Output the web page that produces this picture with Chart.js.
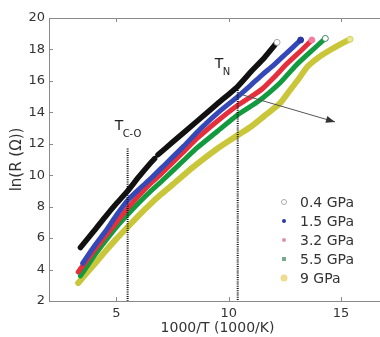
<!DOCTYPE html>
<html><head><meta charset="utf-8">
<script src="https://cdn.jsdelivr.net/npm/chart.js@4"></script>
<style>html,body{margin:0;padding:0;background:#fff;overflow:hidden;width:380px;height:337px}
#wrap{position:absolute;left:0;top:0;width:400px;height:337px}</style>
</head><body><div id="wrap"><canvas id="c" width="400" height="337"></canvas></div>
<script>
const seriesLabels = ['0.4 GPa','1.5 GPa','3.2 GPa','5.5 GPa','9 GPa'];
const p04 = [[3.4,5.4],[4.0,6.45],[4.5,7.35],[5.0,8.2],[5.5,9.0],[6.0,9.9],[6.5,10.75],[6.7,11.05],[6.75,null],[6.85,11.3],[7.5,12.1],[8.6,13.45],[9.5,14.55],[10.4,15.65],[11.0,16.6],[11.6,17.5],[12.15,18.45]];
const p15 = [[3.5,4.4],[4.0,5.45],[4.5,6.4],[5.0,7.45],[5.5,8.4],[6.0,9.1],[6.5,9.75],[7.0,10.45],[8.0,11.85],[8.6,12.75],[9.5,13.95],[10.4,15.0],[11.0,15.75],[11.5,16.4],[12.0,17.0],[12.6,17.8],[13.2,18.6]];
const p32 = [[3.3,3.85],[4.0,5.2],[4.5,6.1],[5.0,7.0],[5.5,7.9],[6.0,8.7],[6.5,9.45],[7.0,10.1],[8.0,11.5],[8.6,12.35],[9.5,13.45],[10.4,14.45],[11.0,15.0],[11.5,15.5],[12.0,16.2],[12.6,17.1],[13.2,17.9],[13.7,18.6]];
const p55 = [[3.4,3.6],[4.0,4.85],[4.5,5.8],[5.0,6.7],[5.5,7.5],[6.0,8.25],[6.5,8.95],[7.0,9.6],[8.0,10.95],[8.6,11.75],[9.5,12.8],[10.4,13.85],[11.0,14.4],[11.5,14.9],[12.3,15.9],[13.0,17.0],[13.6,17.8],[14.3,18.7]];
const p90 = [[3.3,3.15],[4.0,4.3],[4.5,5.15],[5.0,5.95],[5.5,6.7],[6.0,7.45],[6.5,8.15],[7.0,8.8],[7.5,9.4],[8.4,10.5],[9.5,11.7],[10.4,12.55],[11.0,13.1],[11.7,13.9],[12.3,14.6],[12.75,15.45],[13.1,16.1],[13.5,16.9],[14.0,17.5],[14.5,17.95],[15.0,18.35],[15.4,18.65]];
const xTicks = [5,10,15];
const yTicks = [2,4,6,8,10,12,14,16,18,20];
const tcoX = 5.5, tcoTop = 11.7;
const tnX = 10.4, tnTop = 15.7;
const arrowFrom = [10.64,15.1], arrowTo = [14.73,13.39];

const FONT = "'DejaVu Sans', Arial, sans-serif";
const lineColors = ['#111111','#3548b8','#e4303c','#139a3e','#c9c63a'];
const endFill = ['#ffffff','#2a3aa0','#f080a0','#ffffff','#e8e890'];
const endStroke = ['#aaaaaa','#2a3aa0','#f080a0','#3a8a5a','#d8d070'];
const widths = [5.5,5,5,5,6];
const allPts = [p04,p15,p32,p55,p90];

Chart.defaults.font.family = FONT;
Chart.defaults.font.size = 13;
Chart.defaults.color = '#333';

const datasets = allPts.map((pts,i)=>({
  label: seriesLabels[i],
  data: pts.map(p=>({x:p[0],y:p[1]})),
  borderColor: lineColors[i],
  borderWidth: widths[i],
  borderCapStyle:'round', borderJoinStyle:'round',
  tension: 0.2, spanGaps:false, fill:false,
  pointRadius: c => c.dataIndex === pts.length-1 ? 3 : 0,
  pointBackgroundColor: endFill[i],
  pointBorderColor: endStroke[i],
  pointBorderWidth: 1,
  order: i
}));

const deco = {
  id:'deco',
  afterDraw(chart){
    const {ctx, chartArea:a, scales:{x,y}} = chart;
    ctx.save();
    ctx.strokeStyle = '#8a8a8a'; ctx.lineWidth = 1;
    ctx.strokeRect(a.left+0.5, a.top+0.5, a.right-a.left, a.bottom-a.top);
    xTicks.forEach(v=>{const px=Math.round(x.getPixelForValue(v))+0.5;
      ctx.beginPath();ctx.moveTo(px,a.bottom);ctx.lineTo(px,a.bottom-4);
      ctx.moveTo(px,a.top);ctx.lineTo(px,a.top+4);ctx.stroke();});
    yTicks.forEach(v=>{const py=Math.round(y.getPixelForValue(v))+0.5;
      ctx.beginPath();ctx.moveTo(a.left,py);ctx.lineTo(a.left+4,py);ctx.stroke();});
    ctx.strokeStyle='#111'; ctx.lineWidth=2; ctx.setLineDash([1,1.2]);
    [[tcoX,tcoTop],[tnX,tnTop]].forEach(([vx,vt])=>{
      const px=x.getPixelForValue(vx);
      ctx.beginPath();ctx.moveTo(px,y.getPixelForValue(vt));ctx.lineTo(px,a.bottom);ctx.stroke();});
    ctx.setLineDash([]);
    ctx.fillStyle='#222'; ctx.textBaseline='alphabetic'; ctx.textAlign='left';
    const tcoPx=x.getPixelForValue(tcoX), tnPx=x.getPixelForValue(tnX);
    ctx.font="14px "+FONT;
    ctx.fillText('T', tcoPx-13, y.getPixelForValue(12.88));
    ctx.fillText('T', tnPx-23, y.getPixelForValue(16.82));
    ctx.font="10px "+FONT;
    ctx.fillText('C-O', tcoPx-5, y.getPixelForValue(12.88)+7);
    ctx.fillText('N', tnPx-15, y.getPixelForValue(16.82)+7);
    const x1=x.getPixelForValue(arrowFrom[0]), y1=y.getPixelForValue(arrowFrom[1]);
    const x2=x.getPixelForValue(arrowTo[0]), y2=y.getPixelForValue(arrowTo[1]);
    ctx.strokeStyle='#555'; ctx.fillStyle='#333'; ctx.lineWidth=1;
    ctx.beginPath();ctx.moveTo(x1,y1);ctx.lineTo(x2,y2);ctx.stroke();
    const ang=Math.atan2(y2-y1,x2-x1), L=9, W=3.5;
    ctx.beginPath();ctx.moveTo(x2,y2);
    ctx.lineTo(x2-L*Math.cos(ang)+W*Math.sin(ang), y2-L*Math.sin(ang)-W*Math.cos(ang));
    ctx.lineTo(x2-L*Math.cos(ang)-W*Math.sin(ang), y2-L*Math.sin(ang)+W*Math.cos(ang));
    ctx.closePath();ctx.fill();
    const lx=a.left+235, tx=a.left+251, ly0=a.top+184, dy=19;
    ctx.font="14px "+FONT; ctx.textBaseline='middle';
    seriesLabels.forEach((lab,i)=>{
      const ly=ly0+i*dy;
      ctx.lineWidth=1;
      if(i===3){ctx.fillStyle='#7aa88a';ctx.fillRect(lx-2,ly-2,4,4);}
      else{
        const r = i===4?3.5:(i===0?2.5:2);
        ctx.beginPath();ctx.arc(lx,ly,r,0,Math.PI*2);
        ctx.fillStyle=['#fff','#2a3aa0','#e090b0',null,'#eedc90'][i]; ctx.fill();
        if(i===0){ctx.strokeStyle='#aaa';ctx.stroke();}
      }
      ctx.fillStyle='#333'; ctx.fillText(lab, tx, ly+1);
    });
    ctx.restore();
  }
};

new Chart(document.getElementById('c'), {
  type:'line',
  data:{datasets},
  options:{
    responsive:false, animation:false,
    layout:{padding:{top:18,right:14,left:0,bottom:0}},
    plugins:{legend:{display:false}, tooltip:{enabled:false}},
    scales:{
      x:{type:'linear', min:2, max:17,
        afterBuildTicks: s=>{s.ticks = xTicks.map(v=>({value:v}));},
        afterFit: s=>{s.height=36;},
        grid:{display:false, drawTicks:false}, border:{display:false},
        ticks:{padding:5, color:'#333', maxRotation:0, autoSkip:false, font:{size:13}},
        title:{display:true, text:'1000/T (1000/K)', color:'#333', font:{size:14}, padding:{top:0,bottom:0}}
      },
      y:{type:'linear', min:2, max:20,
        afterBuildTicks: s=>{s.ticks = yTicks.map(v=>({value:v}));},
        afterFit: s=>{s.width=49;},
        grid:{display:false, drawTicks:false}, border:{display:false},
        ticks:{padding:4, color:'#333', font:{size:13}},
        title:{display:true, text:'ln(R (Ω))', color:'#333', font:{size:15}, padding:{top:8,bottom:0}}
      }
    }
  },
  plugins:[deco]
});
</script></body></html>
